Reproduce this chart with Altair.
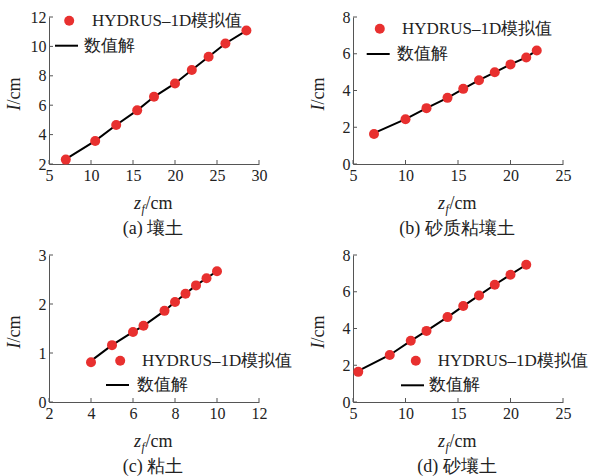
import altair as alt
import pandas as pd

# ---------------- data ----------------
# (a) 壤土
a_z = [7, 10.5, 13, 15.5, 17.5, 20, 22, 24, 26, 28.5]
a_hyd = [2.3, 3.57, 4.65, 5.65, 6.57, 7.48, 8.39, 9.3, 10.2, 11.08]
a_num = [2.33, 3.57, 4.65, 5.65, 6.57, 7.48, 8.39, 9.3, 10.2, 11.08]
# (b) 砂质粘壤土
b_z = [7, 10, 12, 14, 15.5, 17, 18.5, 20, 21.5, 22.5]
b_hyd = [1.63, 2.44, 3.04, 3.6, 4.09, 4.56, 4.99, 5.42, 5.8, 6.18]
b_num = [1.68, 2.44, 3.04, 3.6, 4.09, 4.56, 4.99, 5.42, 5.8, 6.18]
# (c) 粘土
c_z = [4, 5, 6, 6.5, 7.5, 8, 8.5, 9, 9.5, 10]
c_hyd = [0.81, 1.16, 1.43, 1.555, 1.86, 2.04, 2.21, 2.38, 2.525, 2.67]
c_num = [0.84, 1.16, 1.43, 1.555, 1.86, 2.04, 2.21, 2.38, 2.525, 2.67]
# (d) 砂壤土
d_z = [5.5, 8.5, 10.5, 12, 14, 15.5, 17, 18.5, 20, 21.5]
d_hyd = [1.64, 2.56, 3.33, 3.87, 4.62, 5.22, 5.8, 6.38, 6.93, 7.47]
d_num = [1.69, 2.56, 3.33, 3.87, 4.62, 5.22, 5.8, 6.38, 6.93, 7.47]

SERIES_PT = "HYDRUS–1D模拟值"
SERIES_LN = "数值解"

RED = "#e8302f"
AXC = "#555555"
TXT = "#222222"
FONT = "Liberation Serif"

W, H = 210, 147


def panel(z, hyd, num, xdom, xticks, ydom, yticks, sub, leg):
    pts = pd.DataFrame({"z": z, "I": hyd, "s": SERIES_PT})
    ln = pd.DataFrame({"z": z, "I": num, "s": SERIES_LN})
    xt = pd.DataFrame({"z": xticks})
    yt = pd.DataFrame({"I": yticks})

    xaxis = alt.Axis(values=xticks, title=None, grid=False, ticks=False,
                     labelFont=FONT, labelFontSize=16, labelColor=TXT,
                     labelPadding=3, domainColor=AXC, labelFlush=False,
                     labelOverlap=False)
    yaxis = alt.Axis(values=yticks, title=None, grid=False, ticks=False,
                     labelFont=FONT, labelFontSize=16, labelColor=TXT,
                     labelPadding=3, domainColor=AXC, labelFlush=False,
                     labelOverlap=False)
    X = alt.X("z:Q", scale=alt.Scale(domain=xdom, nice=False, zero=False), axis=xaxis)
    Y = alt.Y("I:Q", scale=alt.Scale(domain=ydom, nice=False, zero=False), axis=yaxis)

    (fx, fy, fo), (sx, sy, so) = leg

    line = alt.Chart(ln).mark_line(strokeWidth=2).encode(
        x=X, y=Y,
        stroke=alt.Stroke("s:N", scale=alt.Scale(domain=[SERIES_LN], range=["#000000"]),
                          legend=alt.Legend(orient="none", legendX=sx, legendY=sy,
                                            title=None, padding=0,
                                            symbolType="stroke", symbolSize=529,
                                            symbolStrokeWidth=2, labelOffset=so,
                                            labelFont=FONT, labelFontSize=17,
                                            labelColor=TXT)),
    )
    points = alt.Chart(pts).mark_circle(size=100, opacity=1).encode(
        x=X, y=Y,
        fill=alt.Fill("s:N", scale=alt.Scale(domain=[SERIES_PT], range=[RED]),
                      legend=alt.Legend(orient="none", legendX=fx, legendY=fy,
                                        title=None, padding=0,
                                        symbolType="circle", symbolSize=100,
                                        symbolStrokeWidth=0, labelOffset=fo,
                                        labelFont=FONT, labelFontSize=17,
                                        labelColor=TXT)),
    )
    xtick = alt.Chart(xt).mark_rule(color=AXC, strokeWidth=1).encode(
        x=X, y=alt.value(H), y2=alt.value(H - 4))
    ytick = alt.Chart(yt).mark_rule(color=AXC, strokeWidth=1).encode(
        y=Y, x=alt.value(0), x2=alt.value(4))

    one = alt.Data(values=[{"k": 1}])
    def txt(text, x, y, size=16, style="normal", align="left", angle=0, baseline="alphabetic"):
        kw = dict(text=text, font=FONT, fontSize=size, fontStyle=style,
                  align=align, baseline=baseline, color=TXT)
        if angle:
            kw["angle"] = angle
        return alt.Chart(one).mark_text(**kw).encode(x=alt.value(x), y=alt.value(y))

    cy = H / 2
    titles = [
        txt("I", -29, cy + 14, size=18, style="italic", align="right", angle=270),
        txt("/cm", -29, cy + 14, size=18, align="left", angle=270),
        txt("z", 92, 192, size=18, style="italic", align="right"),
        txt("f", 92.5, 195.5, size=12, style="italic", align="left"),
        txt("/cm", 96.5, 192, size=18, align="left"),
        txt(sub, W / 2 - 1, 217, size=18, align="center"),
    ]
    return alt.layer(xtick, ytick, line, points, *titles).properties(width=W, height=H)


pa = panel(a_z, a_hyd, a_num, [5, 30], [5, 10, 15, 20, 25, 30], [2, 12], [2, 4, 6, 8, 10, 12],
           "(a) 壤土", ((11.7, -4.8, 14.3), (5, 16.2, 5)))
pb = panel(b_z, b_hyd, b_num, [5, 25], [5, 10, 15, 20, 25], [0, 8], [0, 2, 4, 6, 8],
           "(b) 砂质粘壤土", ((18.3, 3.2, 13.7), (12.7, 24.5, 6.7)))
pc = panel(c_z, c_hyd, c_num, [2, 12], [2, 4, 6, 8, 10, 12], [0, 3], [0, 1, 2, 3],
           "(c) 粘土", ((62.7, 97.2, 13.3), (56, 117.5, 7)))
pd_ = panel(d_z, d_hyd, d_num, [5, 25], [5, 10, 15, 20, 25], [0, 8], [0, 2, 4, 6, 8],
            "(d) 砂壤土", ((54.3, 97.2, 13.4), (47, 117.8, 4)))

chart = alt.concat(pa, pb, pc, pd_, columns=2, spacing={"row": 91, "column": 94},
                   bounds="flush").resolve_scale(
    fill="independent", stroke="independent", x="independent", y="independent"
).properties(
    padding={"left": 6, "top": 9, "right": 5, "bottom": 5},
    background="white",
).configure_view(stroke=None)

chart.save("out.html", embed_options={"renderer": "svg", "actions": False})
